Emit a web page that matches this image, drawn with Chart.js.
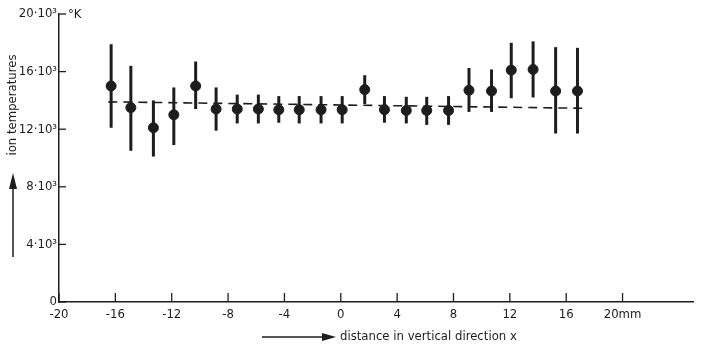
<!DOCTYPE html>
<html lang="en">

<head>
  <meta charset="UTF-8" />
  <title>Ion temperatures vs. vertical distance</title>
  <style>
    html, body { margin: 0; padding: 0; background: #fff; }
    #wrap { width: 703px; height: 355px; }
  </style>
</head>

<body>
  <div id="wrap">
    <canvas id="tempChart" width="703" height="355"></canvas>
  </div>
  <script src="https://cdn.jsdelivr.net/npm/chart.js@4.4.0/dist/chart.umd.min.js"></script>
  <script>
    // measured positions (mm) and ion temperatures (K) with error limits
    const positions = [-16.3, -14.9, -13.3, -11.85, -10.3, -8.85, -7.35, -5.85, -4.4, -2.95, -1.4, 0.1,
      1.7, 3.1, 4.65, 6.1, 7.65, 9.1, 10.7, 12.1, 13.65, 15.25, 16.8];
    const temps = [15000, 13500, 12100, 13000, 15000, 13400, 13400, 13400, 13350, 13350, 13350, 13350,
      14750, 13350, 13300, 13300, 13300, 14700, 14650, 16100, 16150, 14650, 14650];
    const errLow = [12100, 10500, 10100, 10900, 13400, 11900, 12400, 12400, 12450, 12400, 12400, 12400,
      13750, 12450, 12400, 12300, 12300, 13200, 13200, 14150, 14200, 11700, 11700];
    const errHigh = [17900, 16400, 14000, 14900, 16700, 14900, 14400, 14400, 14300, 14300, 14300, 14300,
      15750, 14300, 14250, 14250, 14300, 16250, 16150, 18000, 18100, 17700, 17650];

    // dashed mean line
    const trendX = [-16.5, 17.5];
    const trendY = [13900, 13450];

    const xTicks = [-20, -16, -12, -8, -4, 0, 4, 8, 12, 16, 20];
    const yTicks = [0, 4000, 8000, 12000, 16000, 20000];

    const ink = '#1d1d1d';
    const font = '"Liberation Sans Narrow", "DejaVu Sans Condensed", sans-serif';

    // vertical error bars, drawn under the dots
    const errorBars = {
      id: 'errorBars',
      beforeDatasetsDraw(chart) {
        const { ctx, scales: { x, y } } = chart;
        ctx.save();
        ctx.strokeStyle = ink;
        ctx.lineWidth = 3;
        positions.forEach((p, i) => {
          const px = x.getPixelForValue(p);
          ctx.beginPath();
          ctx.moveTo(px, y.getPixelForValue(errLow[i]));
          ctx.lineTo(px, y.getPixelForValue(errHigh[i]));
          ctx.stroke();
        });
        ctx.restore();
      }
    };

    // inward tick marks, unit label and axis titles with arrows
    const axisDecor = {
      id: 'axisDecor',
      afterDraw(chart) {
        const { ctx, chartArea: a, scales: { x, y } } = chart;
        ctx.save();
        ctx.strokeStyle = ink;
        ctx.fillStyle = ink;
        ctx.lineWidth = 1.3;
        xTicks.forEach(v => {
          const px = x.getPixelForValue(v);
          ctx.beginPath();
          ctx.moveTo(px, a.bottom);
          ctx.lineTo(px, a.bottom - 9);
          ctx.stroke();
        });
        yTicks.forEach(v => {
          const py = y.getPixelForValue(v);
          ctx.beginPath();
          ctx.moveTo(a.left, py);
          ctx.lineTo(a.left + 7, py);
          ctx.stroke();
        });

        ctx.font = '13px ' + font;
        ctx.textBaseline = 'middle';
        ctx.textAlign = 'left';
        ctx.fillText('°K', a.left + 9, y.getPixelForValue(20000) + 1);

        // y title
        ctx.save();
        ctx.translate(13, 105);
        ctx.rotate(-Math.PI / 2);
        ctx.textAlign = 'center';
        ctx.fillText('ion temperatures', 0, 0);
        ctx.restore();
        ctx.lineWidth = 1.5;
        ctx.beginPath();
        ctx.moveTo(13, 257);
        ctx.lineTo(13, 186);
        ctx.stroke();
        ctx.beginPath();
        ctx.moveTo(13, 173);
        ctx.lineTo(9, 189);
        ctx.lineTo(17, 189);
        ctx.closePath();
        ctx.fill();

        // x title
        ctx.beginPath();
        ctx.moveTo(262, 337);
        ctx.lineTo(326, 337);
        ctx.stroke();
        ctx.beginPath();
        ctx.moveTo(336, 337);
        ctx.lineTo(322, 333);
        ctx.lineTo(322, 341);
        ctx.closePath();
        ctx.fill();
        ctx.textAlign = 'left';
        ctx.fillText('distance in vertical direction x', 340, 337);
        ctx.restore();
      }
    };

    const ctx = document.getElementById('tempChart').getContext('2d');

    new Chart(ctx, {
      type: 'scatter',
      data: {
        datasets: [{
          label: 'ion temperature',
          data: positions.map((p, i) => ({ x: p, y: temps[i] })),
          backgroundColor: ink,
          borderColor: ink,
          pointRadius: 5,
          pointHoverRadius: 5,
          order: 1
        }, {
          type: 'line',
          label: 'mean',
          data: trendX.map((p, i) => ({ x: p, y: trendY[i] })),
          borderColor: ink,
          borderWidth: 1.6,
          borderDash: [9, 6],
          pointRadius: 0,
          fill: false,
          order: 2
        }]
      },
      options: {
        responsive: false,
        animation: false,
        layout: { padding: { left: 0, top: 14, right: 10, bottom: 0 } },
        plugins: {
          legend: { display: false },
          tooltip: { enabled: false }
        },
        scales: {
          x: {
            type: 'linear',
            min: -20,
            max: 25,
            afterBuildTicks: s => { s.ticks = xTicks.map(v => ({ value: v })); },
            afterFit: s => { s.height = 53; },
            grid: { display: false, drawTicks: false },
            border: { display: true, color: ink, width: 1.5 },
            ticks: {
              color: ink,
              padding: 5,
              maxRotation: 0,
              font: { family: font, size: 13 },
              callback: v => v === 20 ? '20mm' : String(v)
            }
          },
          y: {
            min: 0,
            max: 20000,
            afterBuildTicks: s => { s.ticks = yTicks.map(v => ({ value: v })); },
            afterFit: s => { s.width = 59; },
            grid: { display: false, drawTicks: false },
            border: { display: true, color: ink, width: 1.5 },
            ticks: {
              color: ink,
              padding: 2,
              font: { family: font, size: 13 },
              callback: v => v === 0 ? '0' : (v / 1000) + '·10³'
            }
          }
        }
      },
      plugins: [errorBars, axisDecor]
    });
  </script>
</body>

</html>
